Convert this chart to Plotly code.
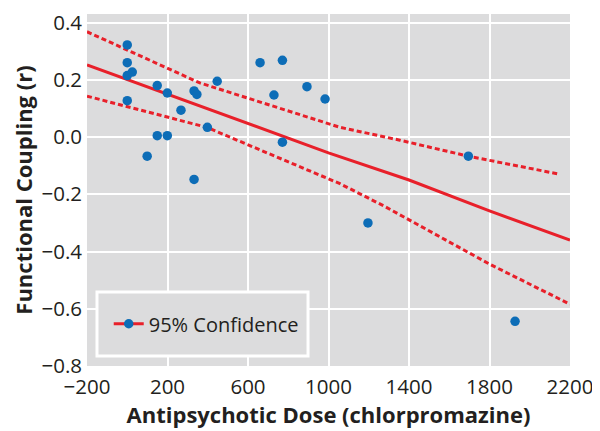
import plotly.graph_objects as go

# Data
dose = [0, 0, 0, 25, 0, 149, 199, 332, 346, 447, 267, 398, 149, 199, 99, 332,
        660, 771, 729, 893, 983, 771, 1695, 1927, 1196]
coupling = [0.322, 0.26, 0.215, 0.227, 0.127, 0.18, 0.154, 0.161, 0.149, 0.195,
            0.094, 0.034, 0.005, 0.005, -0.067, -0.148,
            0.26, 0.268, 0.147, 0.176, 0.133, -0.018, -0.067, -0.644, -0.30]

fit_x = [-200, 200, 600, 1000, 1400, 1800, 2200]
fit_y = [0.252, 0.150, 0.048, -0.055, -0.150, -0.258, -0.360]

upper_x = [-200, 361, 1057, 1355, 1695, 2150]
upper_y = [0.368, 0.189, 0.034, -0.011, -0.067, -0.130]

lower_x = [-200, 395, 1057, 1273, 1803, 2200]
lower_y = [0.143, 0.034, -0.163, -0.240, -0.445, -0.584]

x_ticks = [-200, 200, 600, 1000, 1400, 1800, 2200]
y_ticks = [-0.8, -0.6, -0.4, -0.2, 0.0, 0.2, 0.4]

RED = "#e8202a"
BLUE = "#0d6db7"
BG = "#dcdcdd"
TXT = "#231f20"
FONT = "Open Sans"

fig = go.Figure()
fig.add_trace(go.Scatter(x=upper_x, y=upper_y, mode="lines", showlegend=False,
                         line=dict(color=RED, width=3, dash="5px,3px")))
fig.add_trace(go.Scatter(x=lower_x, y=lower_y, mode="lines", showlegend=False,
                         line=dict(color=RED, width=3, dash="5px,3px")))
fig.add_trace(go.Scatter(x=fit_x, y=fit_y, mode="lines", showlegend=False,
                         line=dict(color=RED, width=3)))
fig.add_trace(go.Scatter(x=dose, y=coupling, mode="markers", showlegend=False,
                         marker=dict(color=BLUE, size=9.5)))
fig.add_trace(go.Scatter(x=[None], y=[None], mode="lines+markers",
                         name="95% Confidence",
                         line=dict(color=RED, width=3),
                         marker=dict(color=BLUE, size=9.5)))

fig.add_shape(type="rect", xref="paper", yref="paper",
              x0=0.0207, x1=0.4576, y0=0.0284, y1=0.2102,
              line=dict(color="white", width=3), fillcolor=BG, layer="above")

fig.update_layout(
    width=600, height=431,
    margin=dict(l=79, r=38, t=6, b=73, autoexpand=False),
    paper_bgcolor="white", plot_bgcolor=BG,
    font=dict(family=FONT, color=TXT, size=17),
    legend=dict(x=0.045, y=0.12, xanchor="left", yanchor="middle",
                bgcolor="rgba(0,0,0,0)", borderwidth=0,
                font=dict(size=20, family=FONT, color=TXT)),
    xaxis=dict(range=[-200, 2200], tickvals=x_ticks, automargin=False,
               showgrid=True, gridcolor="white", gridwidth=2,
               zeroline=False, showline=False, ticks="",
               ticklabelstandoff=6, ticklabeloverflow="allow",
               tickfont=dict(size=20.5),
               title=dict(text="<b>Antipsychotic Dose (chlorpromazine)</b>",
                          font=dict(size=22), standoff=2)),
    yaxis=dict(range=[-0.8, 0.43], tickvals=y_ticks, tickformat=".1f",
               automargin=False,
               showgrid=True, gridcolor="white", gridwidth=2,
               zeroline=False, showline=False, ticks="",
               ticklabelstandoff=4, ticklabeloverflow="allow",
               tickfont=dict(size=20.5),
               title=dict(text="<b>Functional Coupling (r)</b>",
                          font=dict(size=22), standoff=9)),
)

fig.write_html("out.html")
